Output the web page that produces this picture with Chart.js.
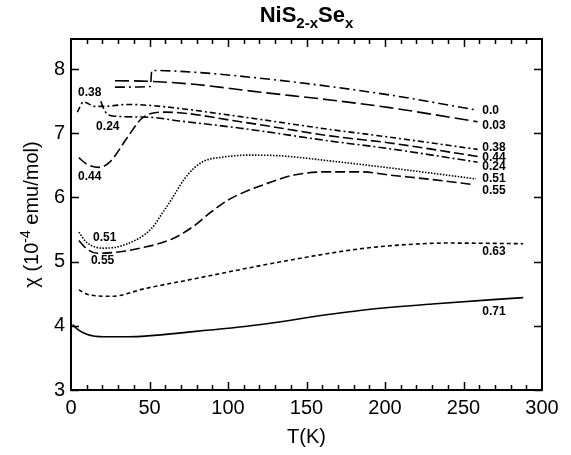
<!DOCTYPE html>
<html>
<head>
    <title>NiS2-xSex susceptibility</title>
    <script src="https://cdn.jsdelivr.net/npm/chart.js"></script>
    <style>
        body { margin: 0; background: #fff; }
    </style>
</head>
<body>
    <canvas id="chiChart" width="571" height="455"></canvas>

    <script>
        // curve labels (Se content x)
        const seriesNames = ['0.0', '0.03', '0.38', '0.44', '0.24', '0.51', '0.55', '0.63', '0.71'];

        // temperature (K) and susceptibility (10^-4 emu/mol)
        const T_000 = [28, 50.5, 51.5, 80, 120, 165, 210, 259];
        const chi_000 = [7.72, 7.73, 7.98, 7.95, 7.86, 7.73, 7.57, 7.36];

        const T_003 = [28, 51, 80, 121, 165, 203, 259];
        const chi_003 = [7.82, 7.81, 7.76, 7.64, 7.52, 7.40, 7.18];

        const T_038 = [4, 8, 15, 21, 36, 57, 108, 165, 203, 259];
        const chi_038 = [7.33, 7.49, 7.42, 7.42, 7.45, 7.42, 7.26, 7.06, 6.94, 6.75];

        const T_044 = [5, 10, 18, 25, 36, 44.5, 51, 60, 108, 165, 203, 259];
        const chi_044 = [6.62, 6.52, 6.47, 6.56, 6.94, 7.22, 7.31, 7.33, 7.18, 6.96, 6.85, 6.64];

        const T_024 = [19, 20.5, 23, 27, 50, 70, 108, 165, 203, 259];
        const chi_024 = [7.50, 7.40, 7.30, 7.27, 7.25, 7.19, 7.08, 6.88, 6.76, 6.55];

        const T_051 = [5, 10, 21, 35, 51, 58, 64, 72, 78, 85, 97, 112, 133, 165, 210, 258];
        const chi_051 = [5.46, 5.30, 5.21, 5.27, 5.51, 5.75, 5.97, 6.28, 6.45, 6.57, 6.63, 6.66, 6.65, 6.57, 6.44, 6.29];

        const T_055 = [5, 10, 17, 30, 46, 64, 78, 89, 100, 110, 125, 142, 163, 185, 203, 230, 257];
        const chi_055 = [5.33, 5.20, 5.13, 5.15, 5.22, 5.35, 5.55, 5.77, 5.96, 6.08, 6.22, 6.35, 6.40, 6.40, 6.35, 6.28, 6.20];

        const T_063 = [5, 12, 26, 47, 78, 121, 150, 184, 210, 240, 288];
        const chi_063 = [4.56, 4.48, 4.46, 4.58, 4.73, 4.94, 5.07, 5.20, 5.26, 5.29, 5.28];

        const T_071 = [1, 4, 10, 21, 36, 78, 121, 165, 184, 230, 288];
        const chi_071 = [4.02, 3.95, 3.87, 3.83, 3.83, 3.91, 4.02, 4.18, 4.24, 4.34, 4.44];

        const xTicks = [0, 50, 100, 150, 200, 250, 300];
        const yTicks = [3, 4, 5, 6, 7, 8];

        const allT = [T_000, T_003, T_038, T_044, T_024, T_051, T_055, T_063, T_071];
        const allChi = [chi_000, chi_003, chi_038, chi_044, chi_024, chi_051, chi_055, chi_063, chi_071];

        // line dash pattern for each curve
        const dashes = [
            [10, 4, 2, 4],
            [14, 5],
            [6, 3, 2, 3],
            [10, 4],
            [8, 3, 2, 3],
            [1.5, 1.5],
            [10, 4],
            [4, 3],
            []
        ];

        // where the curve labels sit (data coords)
        const labelSpots = [
            { text: '0.0', T: 262, chi: 7.36 },
            { text: '0.03', T: 262, chi: 7.12 },
            { text: '0.38', T: 262, chi: 6.78 },
            { text: '0.44', T: 262, chi: 6.62 },
            { text: '0.24', T: 262, chi: 6.48 },
            { text: '0.51', T: 262, chi: 6.30 },
            { text: '0.55', T: 262, chi: 6.10 },
            { text: '0.63', T: 262, chi: 5.15 },
            { text: '0.71', T: 262, chi: 4.22 },
            { text: '0.38', T: 4.5, chi: 7.64 },
            { text: '0.24', T: 16, chi: 7.11 },
            { text: '0.44', T: 4.5, chi: 6.33 },
            { text: '0.51', T: 14, chi: 5.38 },
            { text: '0.55', T: 12.7, chi: 5.01 }
        ];

        const FONT = "'Liberation Sans', Arial, Helvetica, sans-serif";

        const datasets = seriesNames.map((name, i) => ({
            label: name,
            data: allT[i].map((t, j) => ({ x: t, y: allChi[i][j] })),
            borderColor: '#000',
            borderWidth: 1.6,
            borderDash: dashes[i],
            pointRadius: 0,
            fill: false,
            cubicInterpolationMode: 'monotone'
        }));

        const framePlugin = {
            id: 'frame',
            afterDatasetsDraw(chart) {
                const ctx = chart.ctx;
                const a = chart.chartArea;
                const xs = chart.scales.x;
                const ys = chart.scales.y;
                ctx.save();
                ctx.strokeStyle = '#000';
                ctx.lineWidth = 1.5;
                ctx.beginPath();
                for (let t = 10; t < 300; t += 10) {
                    const px = Math.round(xs.getPixelForValue(t)) + 0.5;
                    const len = t % 50 === 0 ? 8 : 5;
                    ctx.moveTo(px, a.bottom);
                    ctx.lineTo(px, a.bottom - len);
                    ctx.moveTo(px, a.top);
                    ctx.lineTo(px, a.top + len);
                }
                yTicks.forEach(v => {
                    const py = Math.round(ys.getPixelForValue(v)) + 0.5;
                    ctx.moveTo(a.left, py);
                    ctx.lineTo(a.left + 8, py);
                    ctx.moveTo(a.right, py);
                    ctx.lineTo(a.right - 8, py);
                });
                ctx.stroke();
                ctx.lineWidth = 2;
                ctx.strokeRect(a.left, a.top, a.right - a.left, a.bottom - a.top);

                // curve labels
                ctx.fillStyle = '#000';
                ctx.font = 'bold 12px ' + FONT;
                ctx.textAlign = 'left';
                ctx.textBaseline = 'middle';
                labelSpots.forEach(l => {
                    ctx.fillText(l.text, xs.getPixelForValue(l.T), ys.getPixelForValue(l.chi));
                });

                // title NiS2-xSex
                const parts = [
                    { s: 'NiS', sub: false },
                    { s: '2-x', sub: true },
                    { s: 'Se', sub: false },
                    { s: 'x', sub: true }
                ];
                const bigF = 'bold 22px ' + FONT;
                const smallF = 'bold 15px ' + FONT;
                let total = 0;
                parts.forEach(p => {
                    ctx.font = p.sub ? smallF : bigF;
                    p.w = ctx.measureText(p.s).width;
                    total += p.w;
                });
                let x = (a.left + a.right) / 2 - total / 2;
                ctx.textBaseline = 'alphabetic';
                parts.forEach(p => {
                    ctx.font = p.sub ? smallF : bigF;
                    ctx.fillText(p.s, x, p.sub ? 28 : 22);
                    x += p.w;
                });

                // x axis title
                ctx.font = '20px ' + FONT;
                ctx.textAlign = 'center';
                ctx.textBaseline = 'middle';
                ctx.fillText('T(K)', (a.left + a.right) / 2, 437);

                // y axis title, rotated
                const yParts = [
                    { s: '\u03c7 (10', sup: false },
                    { s: '-4', sup: true },
                    { s: ' emu/mol)', sup: false }
                ];
                let ytotal = 0;
                yParts.forEach(p => {
                    ctx.font = (p.sup ? '14px ' : '20px ') + FONT;
                    p.w = ctx.measureText(p.s).width;
                    ytotal += p.w;
                });
                ctx.translate(38, (a.top + a.bottom) / 2);
                ctx.rotate(-Math.PI / 2);
                ctx.textAlign = 'left';
                ctx.textBaseline = 'alphabetic';
                let yx = -ytotal / 2;
                yParts.forEach(p => {
                    ctx.font = (p.sup ? '14px ' : '20px ') + FONT;
                    ctx.fillText(p.s, yx, p.sup ? -8 : 0);
                    yx += p.w;
                });
                ctx.restore();
            }
        };

        const ctx = document.getElementById('chiChart').getContext('2d');
        const chart = new Chart(ctx, {
            type: 'line',
            data: { datasets: datasets },
            options: {
                responsive: false,
                animation: false,
                devicePixelRatio: 1,
                layout: { padding: { top: 39, right: 29, left: 0, bottom: 0 } },
                plugins: {
                    legend: { display: false },
                    tooltip: { enabled: false }
                },
                scales: {
                    x: {
                        type: 'linear',
                        min: 0,
                        max: 300,
                        grid: { display: false, drawTicks: false },
                        border: { display: false },
                        afterBuildTicks: s => { s.ticks = xTicks.map(v => ({ value: v })); },
                        afterFit: s => { s.height = 65; },
                        ticks: {
                            padding: 6,
                            maxRotation: 0,
                            autoSkip: false,
                            color: '#000',
                            font: { family: FONT, size: 20 }
                        }
                    },
                    y: {
                        type: 'linear',
                        min: 3,
                        max: 8.47,
                        grid: { display: false, drawTicks: false },
                        border: { display: false },
                        afterBuildTicks: s => { s.ticks = yTicks.map(v => ({ value: v })); },
                        afterFit: s => { s.width = 71; },
                        ticks: {
                            padding: 6,
                            color: '#000',
                            font: { family: FONT, size: 20 }
                        }
                    }
                }
            },
            plugins: [framePlugin]
        });
    </script>
</body>
</html>
